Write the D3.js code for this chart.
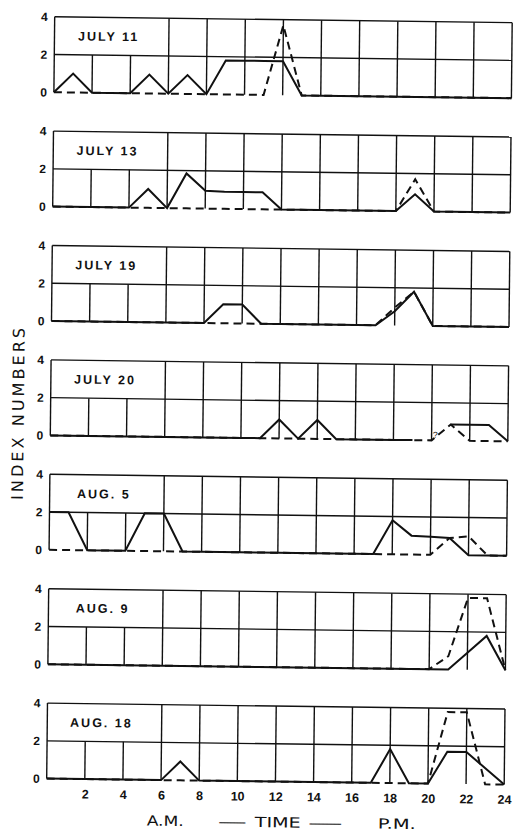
<!DOCTYPE html>
<html><head><meta charset="utf-8">
<script src="https://cdn.jsdelivr.net/npm/d3@7"></script>
<style>body{margin:0;background:#fff} svg{display:block}</style>
</head><body><div id="chart"></div>
<script>
// ---- data (hourly index numbers, hour 0..24) ----
const panelLabels = ["JULY 11","JULY 13","JULY 19","JULY 20","AUG. 5","AUG. 9","AUG. 18"];
const july11Solid  = [0,1,0,0,0,1,0,1,0,1.8,1.8,1.8,1.8,0,0,0,0,0,0,0,0,0,0,0,0];
const july11Dashed = [0,0,0,0,0,0,0,0,0,0,0,0,3.7,0,0,0,0,0,0,0,0,0,0,0,0];
const july13Solid  = [0,0,0,0,0,1,0,1.85,0.95,0.9,0.9,0.9,0,0,0,0,0,0,0,0.9,0,0,0,0,0];
const july13Dashed = [0,0,0,0,0,0,0,0,0,0,0,0,0,0,0,0,0,0,0,1.7,0,0,0,0,0];
const july19Solid  = [0,0,0,0,0,0,0,0,0,1,1,0,0,0,0,0,0,0,0.75,1.8,0,0,0,0,0];
const july19Dashed = [0,0,0,0,0,0,0,0,0,0,0,0,0,0,0,0,0,0,0.95,1.8,0,0,0,0,0];
const july20Solid  = [0,0,0,0,0,0,0,0,0,0,0,0,1,0,1,0,0,0,0,0,null,0.85,0.85,0.85,0];
const july20Dashed = [0,0,0,0,0,0,0,0,0,0,0,0,0,0,0,0,0,0,0,0,0,0.85,0,0,0];
const aug5Solid    = [2,2,0,0,0,2,2,0,0,0,0,0,0,0,0,0,0,0,1.8,1.0,0.95,0.9,0,0,0];
const aug5Dashed   = [0,0,0,0,0,0,0,0,0,0,0,0,0,0,0,0,0,0,0,0,0,0.9,1.0,0,0];
const aug9Solid    = [0,0,0,0,0,0,0,0,0,0,0,0,0,0,0,0,0,0,0,0,0,0,0.9,1.8,0];
const aug9Dashed   = [0,0,0,0,0,0,0,0,0,0,0,0,0,0,0,0,0,0,0,0,0,0.7,3.8,3.8,0];
const aug18Solid   = [0,0,0,0,0,0,0,1,0,0,0,0,0,0,0,0,0,0,1.8,0,0,1.7,1.7,0.85,0];
const aug18Dashed  = [0,0,0,0,0,0,0,0,0,0,0,0,0,0,0,0,0,0,0,0,0,3.8,3.8,0,0];
const solidSeries  = [july11Solid, july13Solid, july19Solid, july20Solid, aug5Solid, aug9Solid, aug18Solid];
const dashedSeries = [july11Dashed, july13Dashed, july19Dashed, july20Dashed, aug5Dashed, aug9Dashed, aug18Dashed];
const yTicks = [0, 2, 4];
const xTicks = [2,4,6,8,10,12,14,16,18,20,22,24];
const notes = [{panel: 3, hour: 20.2, value: 0.12, text: "?"}];

// ---- layout ----
const W = 514, H = 837;
const svg = d3.select("#chart").append("svg").attr("width", W).attr("height", H);
const sa = 0.0105, sb = 0.013, cx = 257, cy = 418;
const g = svg.append("g")
  .attr("transform", `matrix(1,${sb},${-sa},1,${sa*cy},${-sb*cx})`);

const x = d3.scaleLinear().domain([0, 24]).range([50.5, 508]);
const panelTop = i => 19.4 + i * 114.4;
const panelH = 75.5;
const ink = "#111";
const font = "'Liberation Sans', Arial, sans-serif";
const wide = "'DejaVu Sans', sans-serif";

panelLabels.forEach((lab, i) => {
  const y = d3.scaleLinear().domain([0, 4]).range([panelTop(i) + panelH, panelTop(i)]);
  const p = g.append("g");

  // horizontal grid lines
  p.selectAll("line.h").data([2, 4]).join("line")
    .attr("x1", x(0)).attr("x2", x(24))
    .attr("y1", d => y(d)).attr("y2", d => y(d))
    .attr("stroke", ink).attr("stroke-width", 1.4);
  // vertical grid lines (label box spans hours 0-6 in upper half)
  p.selectAll("line.v").data(d3.range(0, 25, 2)).join("line")
    .attr("x1", d => x(d)).attr("x2", d => x(d))
    .attr("y1", y(0)).attr("y2", d => (d === 2 || d === 4) ? y(2) : y(4))
    .attr("stroke", ink).attr("stroke-width", 1.4);

  // panel label
  p.append("text")
    .attr("x", (x(0) + x(6)) / 2 - 3)
    .attr("y", (y(4) + y(2)) / 2)
    .attr("dy", "0.36em")
    .attr("text-anchor", "middle")
    .style("font-family", font).style("font-weight", "bold")
    .style("font-size", "12.5px").style("letter-spacing", "2px")
    .attr("fill", ink)
    .text(lab);

  // y axis labels
  const ax = d3.axisLeft(y).tickValues(yTicks).tickFormat(d3.format("d")).tickSize(0).tickPadding(7);
  const axg = p.append("g").attr("transform", `translate(${x(0)},0)`).call(ax);
  axg.select(".domain").remove();
  axg.selectAll("text").style("font-family", font).style("font-weight", "bold")
    .style("font-size", "12px").attr("fill", ink);

  // series
  const line = d3.line().defined(d => d != null).x((d, j) => x(j)).y(d => y(d));
  p.append("path").datum(dashedSeries[i]).attr("d", line)
    .attr("fill", "none").attr("stroke", ink).attr("stroke-width", 2)
    .attr("stroke-dasharray", "8,5");
  p.append("path").datum(solidSeries[i]).attr("d", line)
    .attr("fill", "none").attr("stroke", ink).attr("stroke-width", 2)
    .attr("stroke-linejoin", "miter");

  notes.filter(n => n.panel === i).forEach(n => {
    p.append("text").attr("x", x(n.hour)).attr("y", y(n.value))
      .attr("text-anchor", "middle")
      .style("font-family", font).style("font-size", "9px").attr("fill", ink)
      .text(n.text);
  });

  if (i === panelLabels.length - 1) {
    const bx = d3.axisBottom(x).tickValues(xTicks).tickSize(0).tickPadding(10.5);
    const bg = p.append("g").attr("transform", `translate(0,${y(0)})`).call(bx);
    bg.select(".domain").remove();
    bg.selectAll("text").style("font-family", font).style("font-weight", "bold")
      .style("font-size", "12.5px").attr("fill", ink);
  }
});

// axis titles
g.append("text")
  .attr("transform", "translate(18,417) rotate(-90)")
  .attr("text-anchor", "middle").attr("dy", "0.36em")
  .attr("textLength", 172).attr("lengthAdjust", "spacing")
  .style("font-family", wide).style("font-size", "16px").attr("fill", ink)
  .text("INDEX NUMBERS");

const bottom = [
  {t: "A.M.", x0: 151, w: 37},
  {t: "—", x0: 222, w: 29},
  {t: "TIME", x0: 259, w: 46},
  {t: "—", x0: 312, w: 35},
  {t: "P.M.", x0: 382, w: 38}
];
g.selectAll("text.bt").data(bottom).join("text")
  .attr("x", d => d.x0).attr("y", 827)
  .attr("textLength", d => d.w).attr("lengthAdjust", "spacingAndGlyphs")
  .style("font-family", wide).style("font-size", "14px").attr("fill", ink)
  .text(d => d.t);
</script>
</body></html>
